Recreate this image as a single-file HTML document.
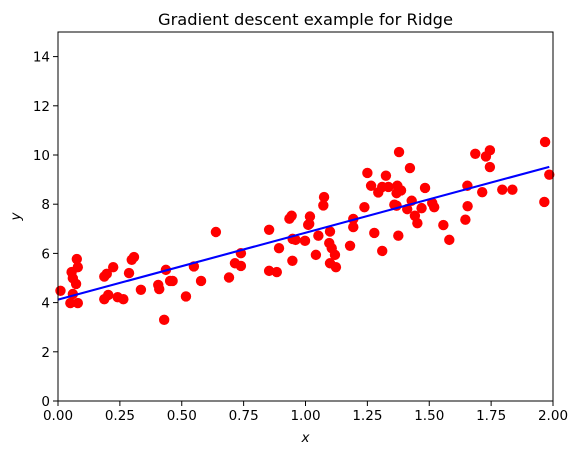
<!DOCTYPE html>
<html><head><meta charset="utf-8"><style>
body{margin:0;background:#fff;font-family:"Liberation Sans","DejaVu Sans",sans-serif}
svg text{font-family:"DejaVu Sans","Liberation Sans",sans-serif}
</style></head><body>
<svg id="chart" width="579" height="455" xmlns="http://www.w3.org/2000/svg"></svg>
<script>
const xs=[0.01,0.05,0.06,0.08,0.055,0.06,0.076,0.08,0.073,0.187,0.197,0.223,0.187,0.203,0.241,0.264,0.287,0.298,0.307,0.335,0.405,0.409,0.429,0.436,0.453,0.463,0.517,0.549,0.578,0.638,0.691,0.715,0.739,0.739,0.853,0.853,0.884,0.893,0.935,0.944,0.948,0.960,0.947,0.998,1.011,1.018,1.015,1.042,1.052,1.072,1.075,1.096,1.099,1.106,1.099,1.119,1.123,1.180,1.193,1.193,1.238,1.250,1.265,1.278,1.294,1.310,1.310,1.325,1.335,1.359,1.368,1.371,1.368,1.386,1.375,1.378,1.411,1.422,1.429,1.442,1.452,1.469,1.483,1.512,1.520,1.557,1.581,1.646,1.654,1.655,1.686,1.714,1.729,1.745,1.745,1.795,1.836,1.968,1.985,1.965];
const ys=[4.48,3.98,4.35,3.98,5.24,4.99,5.77,5.44,4.76,5.06,5.17,5.44,4.14,4.31,4.22,4.14,5.20,5.74,5.85,4.52,4.72,4.55,3.30,5.33,4.88,4.88,4.25,5.47,4.88,6.87,5.02,5.60,5.49,6.01,6.96,5.29,5.24,6.21,7.41,7.53,6.59,6.55,5.70,6.51,7.16,7.50,7.20,5.94,6.72,7.95,8.29,6.42,6.89,6.21,5.60,5.94,5.44,6.31,7.40,7.07,7.88,9.27,8.75,6.83,8.48,8.70,6.10,9.16,8.70,7.98,7.94,8.75,8.45,8.56,6.72,10.12,7.80,9.47,8.14,7.53,7.23,7.84,8.66,8.05,7.88,7.15,6.55,7.37,8.75,7.92,10.05,8.49,9.94,10.19,9.51,8.59,8.59,10.53,9.20,8.09];
const lineX=[0,1.985];
const intercept=4.12, slope=2.72;
const xTicks=[0,0.25,0.5,0.75,1.0,1.25,1.5,1.75,2.0];
const xTickLabels=["0.00","0.25","0.50","0.75","1.00","1.25","1.50","1.75","2.00"];
const yTicks=[0,2,4,6,8,10,12,14];
const yTickLabels=["0","2","4","6","8","10","12","14"];

const L=58,R=553,T=32,B=401,XMIN=0,XMAX=2,YMIN=0,YMAX=15;
const sx=v=>L+(v-XMIN)/(XMAX-XMIN)*(R-L);
const sy=v=>B-(v-YMIN)/(YMAX-YMIN)*(B-T);
const svg=document.getElementById('chart');
const NS='http://www.w3.org/2000/svg';
function mk(t,a){const e=document.createElementNS(NS,t);for(const k in a)e.setAttribute(k,a[k]);svg.appendChild(e);return e;}

let e=mk('rect',{x:L,y:T,width:R-L,height:B-T,fill:'#fff'});



const g=mk('g',{});


for(let i=0;i<xs.length;i++){
  const c=document.createElementNS(NS,'circle');
  c.setAttribute('cx',sx(xs[i]));c.setAttribute('cy',sy(ys[i]));c.setAttribute('r',5.2);c.setAttribute('fill','#ff0000');
  
  
  g.appendChild(c);
}
e=mk('line',{x1:sx(lineX[0]),y1:sy(intercept+slope*lineX[0]),x2:sx(lineX[1]),y2:sy(intercept+slope*lineX[1]),stroke:'#0000ff','stroke-width':2.1});



e=mk('rect',{x:L,y:T,width:R-L,height:B-T,fill:'none',stroke:'#000','stroke-width':1});



xTicks.forEach((v,i)=>{
  const x=sx(v);
  let t=mk('line',{x1:x,y1:B,x2:x,y2:B+5,stroke:'#000'});
  
  
  let l=mk('text',{x:x,y:B+19,'font-size':13.5,'text-anchor':'middle'});
  l.textContent=xTickLabels[i];
  
  
});
yTicks.forEach((v,i)=>{
  const y=sy(v);
  let t=mk('line',{x1:L-5,y1:y,x2:L,y2:y,stroke:'#000'});
  
  
  let l=mk('text',{x:L-8,y:y+5,'font-size':13.5,'text-anchor':'end'});
  l.textContent=yTickLabels[i];
  
  
});
e=mk('text',{x:(L+R)/2,y:25,'font-size':16.3,'text-anchor':'middle'});
e.textContent='Gradient descent example for Ridge';


e=mk('text',{x:(L+R)/2,y:442,'font-size':13.5,'text-anchor':'middle','font-style':'italic'});
e.textContent='x';


e=mk('text',{x:20,y:(T+B)/2,'font-size':13.5,'text-anchor':'middle','font-style':'italic',transform:'rotate(-90 20 '+((T+B)/2)+')'});
e.textContent='y';


</script>
</body></html>
